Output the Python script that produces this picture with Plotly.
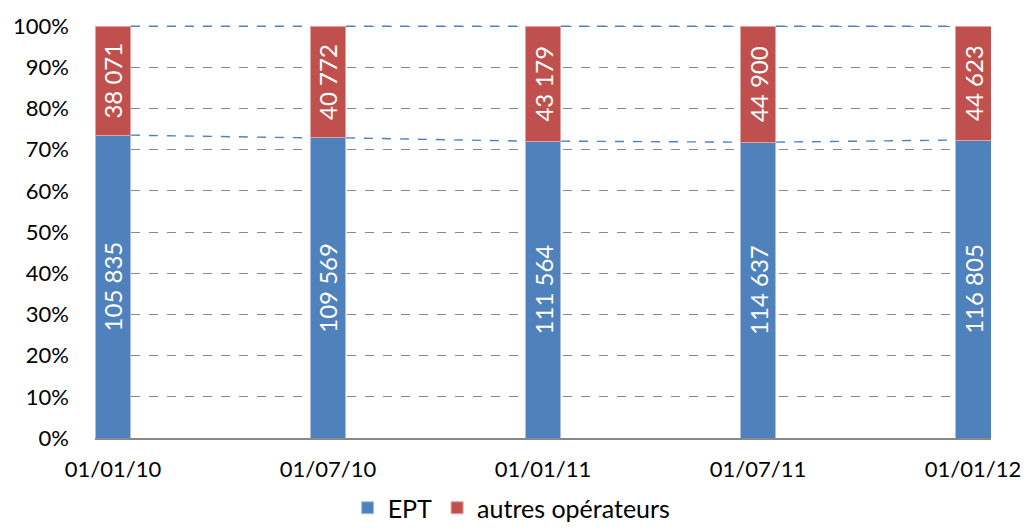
import plotly.graph_objects as go

dates = ["01/01/10", "01/07/10", "01/01/11", "01/07/11", "01/01/12"]
ept = [105835, 109569, 111564, 114637, 116805]
autres = [38071, 40772, 43179, 44900, 44623]

BLUE = "#4F81BD"
RED = "#C0504D"
FONT = "Lato, 'Open Sans', sans-serif"
W = 0.167

x = list(range(len(dates)))
tot = [a + b for a, b in zip(ept, autres)]
p_ept = [a / t for a, t in zip(ept, tot)]
p_aut = [b / t for b, t in zip(autres, tot)]

def fmt(v):
    return f"{v:,}".replace(",", " ")

fig = go.Figure()
fig.add_trace(go.Bar(x=x, y=p_ept, name="EPT", marker=dict(color=BLUE, line=dict(color="#A9C0E0", width=1)),
                     width=W, text=[fmt(v) for v in ept], textposition="inside", textangle=-90,
                     insidetextanchor="middle", insidetextfont=dict(color="white", size=24, family=FONT),
                     hoverinfo="skip"))
fig.add_trace(go.Bar(x=x, y=p_aut, name="autres opérateurs", marker=dict(color=RED, line=dict(color="#DFA3A2", width=1)),
                     width=W, text=[fmt(v) for v in autres], textposition="inside", textangle=-90,
                     insidetextanchor="middle", insidetextfont=dict(color="white", size=24, family=FONT),
                     hoverinfo="skip"))

# series lines
for level in (p_ept, [1.0] * len(x)):
    for i in range(len(x) - 1):
        fig.add_trace(go.Scatter(x=[x[i] + W / 2, x[i + 1] - W / 2], y=[level[i], level[i + 1]],
                                 mode="lines", line=dict(color=BLUE, width=1.4, dash="dash"),
                                 showlegend=False, hoverinfo="skip"))

fig.update_layout(
    barmode="stack",
    width=1026, height=531,
    margin=dict(l=95, r=35, t=25, b=93),
    plot_bgcolor="white", paper_bgcolor="white",
    font=dict(family=FONT, size=22, color="black"),
    uniformtext=dict(mode=False),
    legend=dict(orientation="h", x=0.465, xanchor="center", yref="container", y=-0.008, yanchor="bottom",
                font=dict(size=25), traceorder="normal", itemwidth=30, tracegroupgap=0),
    xaxis=dict(range=[-W / 2, x[-1] + W / 2], tickvals=x, ticktext=dates, showgrid=False,
               showline=True, linecolor="#888888", linewidth=1.5, ticks="", zeroline=False,
               tickfont=dict(size=22), automargin=False, ticklabelstandoff=11),
    yaxis=dict(range=[0, 1.003], tickvals=[i / 10 for i in range(11)],
               ticktext=[f"{i * 10}%" for i in range(11)], showgrid=True, gridcolor="#888888",
               griddash="dash", gridwidth=1, zeroline=False, showline=False, ticks="",
               tickfont=dict(size=22), automargin=False, ticklabelstandoff=25),
)
fig.write_html("out.html", config={"displayModeBar": False},
               post_script="document.body.style.margin='0px';document.body.style.overflow='hidden';")
